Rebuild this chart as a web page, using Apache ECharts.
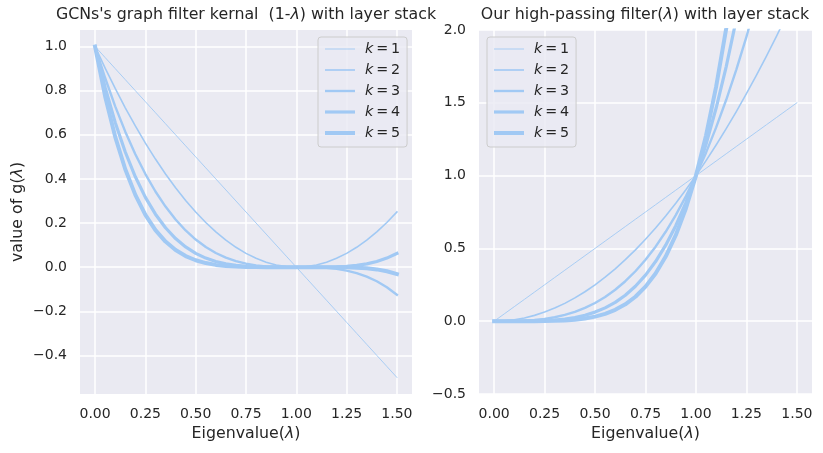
<!DOCTYPE html>
<html>
<head>
<meta charset="utf-8">
<script src="https://cdn.jsdelivr.net/npm/echarts@6/dist/echarts.min.js"></script>
<style>html,body{margin:0;padding:0;background:#fff}#c{width:823px;height:453px}</style>
</head>
<body>
<div id="c"></div>
<script>
// ---- data ----
const lambdas = [0,0.05,0.1,0.15,0.2,0.25,0.3,0.35,0.4,0.45,0.5,0.55,0.6,0.65,0.7,0.75,0.8,0.85,0.9,0.95,1.0,1.05,1.1,1.15,1.2,1.25,1.3,1.35,1.4,1.45,1.5];
const gcnK1 = [1,0.95,0.9,0.85,0.8,0.75,0.7,0.65,0.6,0.55,0.5,0.45,0.4,0.35,0.3,0.25,0.2,0.15,0.1,0.05,0,-0.05,-0.1,-0.15,-0.2,-0.25,-0.3,-0.35,-0.4,-0.45,-0.5];
const gcnK2 = [1,0.9025,0.81,0.7225,0.64,0.5625,0.49,0.4225,0.36,0.3025,0.25,0.2025,0.16,0.1225,0.09,0.0625,0.04,0.0225,0.01,0.0025,0,0.0025,0.01,0.0225,0.04,0.0625,0.09,0.1225,0.16,0.2025,0.25];
const gcnK3 = [1,0.8574,0.729,0.6141,0.512,0.4219,0.343,0.2746,0.216,0.1664,0.125,0.0911,0.064,0.0429,0.027,0.0156,0.008,0.0034,0.001,0.0001,0,-0.0001,-0.001,-0.0034,-0.008,-0.0156,-0.027,-0.0429,-0.064,-0.0911,-0.125];
const gcnK4 = [1,0.8145,0.6561,0.522,0.4096,0.3164,0.2401,0.1785,0.1296,0.0915,0.0625,0.041,0.0256,0.015,0.0081,0.0039,0.0016,0.0005,0.0001,0,0,0,0.0001,0.0005,0.0016,0.0039,0.0081,0.015,0.0256,0.041,0.0625];
const gcnK5 = [1,0.7738,0.5905,0.4437,0.3277,0.2373,0.1681,0.116,0.0778,0.0503,0.0313,0.0185,0.0102,0.0053,0.0024,0.001,0.0003,0.0001,0,0,0,0,0,-0.0001,-0.0003,-0.001,-0.0024,-0.0053,-0.0102,-0.0185,-0.0313];
const hpK1 = [0,0.05,0.1,0.15,0.2,0.25,0.3,0.35,0.4,0.45,0.5,0.55,0.6,0.65,0.7,0.75,0.8,0.85,0.9,0.95,1,1.05,1.1,1.15,1.2,1.25,1.3,1.35,1.4,1.45,1.5];
const hpK2 = [0,0.0025,0.01,0.0225,0.04,0.0625,0.09,0.1225,0.16,0.2025,0.25,0.3025,0.36,0.4225,0.49,0.5625,0.64,0.7225,0.81,0.9025,1,1.1025,1.21,1.3225,1.44,1.5625,1.69,1.8225,1.96,2.1025,2.25];
const hpK3 = [0,0.0001,0.001,0.0034,0.008,0.0156,0.027,0.0429,0.064,0.0911,0.125,0.1664,0.216,0.2746,0.343,0.4219,0.512,0.6141,0.729,0.8574,1,1.1576,1.331,1.5209,1.728,1.9531,2.197,2.4604,2.744,3.0486,3.375];
const hpK4 = [0,0,0.0001,0.0005,0.0016,0.0039,0.0081,0.015,0.0256,0.041,0.0625,0.0915,0.1296,0.1785,0.2401,0.3164,0.4096,0.522,0.6561,0.8145,1,1.2155,1.4641,1.749,2.0736,2.4414,2.8561,3.3215,3.8416,4.4205,5.0625];
const hpK5 = [0,0,0,0.0001,0.0003,0.001,0.0024,0.0053,0.0102,0.0185,0.0313,0.0503,0.0778,0.116,0.1681,0.2373,0.3277,0.4437,0.5905,0.7738,1,1.2763,1.6105,2.0114,2.4883,3.0518,3.7129,4.484,5.3782,6.4097,7.5938];
const xTicks = [0,0.25,0.5,0.75,1.0,1.25,1.5];
const leftYTicks = [-0.4,-0.2,0,0.2,0.4,0.6,0.8,1.0];
const rightYTicks = [-0.5,0,0.5,1.0,1.5,2.0];
const kLabels = ['1','2','3','4','5'];

// ---- style ----
const FONT = 'DejaVu Sans';
const TXT = '#262626';
const LINE = '#a1c9f4';
const widths = [0.9,1.6,2.4,3.2,4.0];
const BG = '#eaeaf2';
const FS_T = 15.8;

const fmtY = v => (v < 0 ? '\u2212' : '') + Math.abs(v).toFixed(1);
const fmtX = v => (v < 0 ? '\u2212' : '') + Math.abs(v).toFixed(2);
const ital = {fontStyle:'italic', fontFamily:FONT, fontSize:FS_T, color:TXT};

function xAxisDef(gi){
  return {
    type:'value', gridIndex:gi, min:-0.075, max:1.575,
    axisLine:{show:false}, axisTick:{show:false, customValues:xTicks},
    axisLabel:{customValues:xTicks, formatter:fmtX, color:TXT, fontFamily:FONT, fontSize:14, margin:13},
    splitLine:{show:true, lineStyle:{color:'#ffffff', width:1.5}},
    name:'Eigenvalue({i|\u03bb})', nameLocation:'middle', nameGap:31,
    nameTextStyle:{color:TXT, fontFamily:FONT, fontSize:FS_T, rich:{i:ital}}
  };
}
function yAxisDef(gi, min, max, ticks, name){
  const a = {
    type:'value', gridIndex:gi, min:min, max:max,
    axisLine:{show:false}, axisTick:{show:false, customValues:ticks},
    axisLabel:{customValues:ticks, formatter:fmtY, color:TXT, fontFamily:FONT, fontSize:14, margin:13},
    splitLine:{show:true, lineStyle:{color:'#ffffff', width:1.5}}
  };
  if (name) {
    a.name = name; a.nameLocation='middle'; a.nameGap=54; a.nameRotate=90;
    a.nameTextStyle = {color:TXT, fontFamily:FONT, fontSize:FS_T, rich:{i:ital}};
  }
  return a;
}
function mk(prefix, arrs, gi){
  return arrs.map((arr,i)=>({
    name: prefix + kLabels[i], type:'line', xAxisIndex:gi, yAxisIndex:gi,
    data: lambdas.map((x,j)=>[x, arr[j]]),
    showSymbol:false, symbol:'none', smooth:false, clip:true,
    lineStyle:{color:LINE, width:widths[i], cap:'square', join:'round'}, itemStyle:{color:LINE},
    emphasis:{disabled:true}, z:2+i
  }));
}
function legendDef(prefix, left){
  return {
    orient:'vertical', left:left, top:37, selectedMode:false,
    data: kLabels.map(k=>prefix+k),
    itemWidth:30, itemHeight:14, itemGap:7,
    padding:[5,7,7,5],
    backgroundColor:'rgba(234,234,242,0.8)', borderColor:'#cccccc', borderWidth:1, borderRadius:3,
    lineStyle:{width:'inherit', cap:'butt'},
    itemStyle:{opacity:0, borderWidth:0},
    formatter: n => '{i|k}\u2009=\u2009' + n.slice(prefix.length),
    textStyle:{color:TXT, fontFamily:FONT, fontSize:14.3, padding:[0,0,0,5],
      rich:{i:{fontStyle:'italic', fontFamily:FONT, fontSize:14.3, color:TXT}}}
  };
}

const chart = echarts.init(document.getElementById('c'), null, {renderer:'canvas'});
chart.setOption({
  animation:false,
  backgroundColor:'#ffffff',
  grid:[
    {left:80, top:30, width:332, height:364, show:true, backgroundColor:BG, borderWidth:0},
    {left:479, top:30, width:333, height:364, show:true, backgroundColor:BG, borderWidth:0}
  ],
  xAxis:[xAxisDef(0), xAxisDef(1)],
  yAxis:[yAxisDef(0,-0.575,1.075,leftYTicks,'value of g({i|\u03bb})'), yAxisDef(1,-0.5,2.0,rightYTicks,null)],
  legend:[legendDef('L',318), legendDef('R',487)],
  graphic:[
    {type:'text', x:246, y:15, style:{text:"GCNs's graph filter kernal  (1-{i|\u03bb}) with layer stack", align:'center', verticalAlign:'middle', fill:TXT, font:FS_T+'px "DejaVu Sans"', rich:{i:{fontStyle:'italic', fontFamily:FONT, fontSize:FS_T, fill:TXT}}}},
    {type:'text', x:645, y:15, style:{text:'Our high-passing filter({i|\u03bb}) with layer stack', align:'center', verticalAlign:'middle', fill:TXT, font:FS_T+'px "DejaVu Sans"', rich:{i:{fontStyle:'italic', fontFamily:FONT, fontSize:FS_T, fill:TXT}}}}
  ],
  series:[].concat(mk('L',[gcnK1,gcnK2,gcnK3,gcnK4,gcnK5],0), mk('R',[hpK1,hpK2,hpK3,hpK4,hpK5],1))
});
</script>
</body>
</html>
